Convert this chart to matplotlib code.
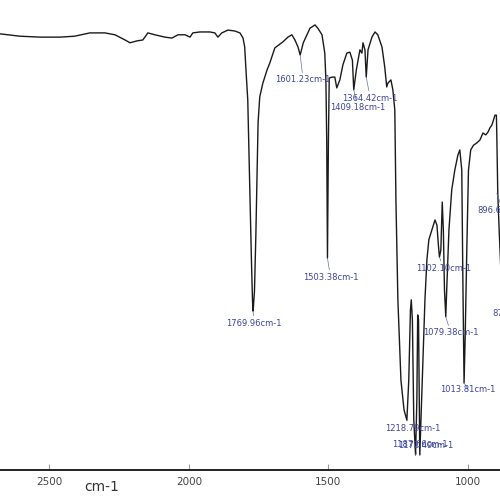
import matplotlib
matplotlib.use('Agg')
import matplotlib.pyplot as plt
import numpy as np

# IR spectrum: wavenumber (cm-1) and transmittance (%)
wavenumber = [2677, 2606, 2534, 2462, 2409, 2355, 2301, 2265, 2229, 2211,
              2186, 2165, 2147, 2122, 2086, 2061, 2039, 2014, 1996, 1986,
              1961, 1925, 1907, 1896, 1882, 1860, 1835, 1817, 1806, 1800,
              1796, 1789, 1782, 1776, 1772, 1769.96, 1765, 1760, 1756, 1752,
              1746, 1735, 1720, 1710, 1692, 1674, 1663, 1645, 1631, 1620,
              1609, 1601.23, 1590, 1566, 1548, 1538, 1523, 1513, 1509, 1506,
              1504.5, 1503.38, 1502, 1500, 1497, 1487, 1477, 1470, 1459, 1448,
              1434, 1423, 1414, 1409.18, 1400, 1387, 1380, 1376, 1369, 1364.42,
              1358, 1344, 1333, 1323, 1308, 1298, 1291, 1287, 1276, 1269,
              1262, 1258, 1251, 1240, 1229, 1218.79, 1212, 1206, 1203, 1199,
              1194, 1187.66, 1183, 1180, 1177, 1172.49, 1166, 1154, 1147, 1140,
              1129, 1118, 1111, 1106, 1102.10, 1097, 1092, 1088, 1084, 1079.38,
              1076, 1068, 1058, 1047, 1036, 1029, 1022, 1018, 1013.81, 1010,
              1004, 998, 990, 980, 968, 957, 946, 936, 928, 921,
              914, 903, 898, 896.66, 893, 888, 880, 872, 865]
transmittance = [92.8, 92.3, 92.1, 92.1, 92.3, 93.0, 93.0, 92.6, 91.5, 90.9,
                 91.3, 91.5, 93.0, 92.6, 92.1, 91.9, 92.6, 92.6, 92.1, 93.0,
                 93.2, 93.2, 93.0, 92.1, 93.0, 93.6, 93.4, 93.0, 91.9, 90.0,
                 85.7, 78.7, 60.0, 45.0, 36.0, 33.8, 38.0, 50.0, 62.0, 74.0,
                 79.4, 82.3, 85.1, 86.6, 89.8, 90.6, 91.1, 92.1, 92.6, 91.5,
                 90.0, 88.3, 90.9, 94.0, 94.7, 94.0, 92.6, 88.7, 83.0, 70.0,
                 55.0, 45.1, 55.0, 70.0, 83.4, 83.6, 83.6, 81.3, 83.0, 86.2,
                 88.7, 88.9, 87.2, 80.9, 85.1, 89.4, 88.7, 90.9, 89.4, 83.6,
                 89.4, 92.1, 93.2, 92.6, 90.0, 85.7, 81.5, 82.3, 83.0, 80.9,
                 76.6, 57.4, 36.2, 19.1, 12.8, 10.6, 19.1, 34.0, 36.2, 31.9,
                 10.6, 3.2, 14.9, 33.0, 32.0, 3.2, 14.9, 36.2, 44.7, 49.0,
                 51.1, 53.2, 52.1, 48.0, 45.3, 46.8, 57.0, 51.0, 38.3, 32.6,
                 38.3, 51.1, 59.6, 63.8, 67.0, 68.1, 63.8, 40.0, 18.5, 27.7,
                 46.8, 63.8, 68.1, 69.1, 69.6, 70.2, 71.7, 71.3, 71.9, 72.8,
                 73.4, 75.5, 75.5, 72.0, 58.9, 51.0, 40.0, 36.0, 45.0]

peak_wn = [1769.96, 1601.23, 1503.38, 1409.18, 1364.42, 1218.79, 1187.66,
           1172.49, 1102.10, 1079.38, 1013.81, 896.66, 872.0]
peak_t = [33.8, 88.3, 45.1, 80.9, 83.6, 10.6, 3.2, 3.2, 45.3, 32.6, 18.5, 58.9, 36.0]
peak_labels = ['1769.96cm-1', '1601.23cm-1', '1503.38cm-1', '1409.18cm-1',
               '1364.42cm-1', '1218.79cm-1', '1187.66cm-1', '1172.49cm-1',
               '1102.10cm-1', '1079.38cm-1', '1013.81cm-1', '896.66cm-1',
               '872.04cm-1']
# label offsets in pixels from the peak point
label_offsets = [(1, -12), (3, -25), (3, -19), (4, -18), (4, -21), (6, -8),
                 (4, 10), (6, 9), (4, -11), (5, -16), (4, -6), (6, -17), (14, -13)]

xticks = [2500, 2000, 1500, 1000]

fig = plt.figure(figsize=(5, 5), dpi=100)
ax = fig.add_axes([0, 0.06, 1, 0.94])

ax.plot(wavenumber, transmittance, color='#1a1a1a', linewidth=1.0)

for wn, t, lab, off in zip(peak_wn, peak_t, peak_labels, label_offsets):
    ax.annotate(lab, xy=(wn, t), xytext=off, textcoords='offset pixels',
                ha='center', va='center', fontsize=6, color='#3a44a0',
                annotation_clip=False,
                arrowprops=dict(arrowstyle='-', color='#6670a8', lw=0.5,
                                shrinkA=0, shrinkB=0))

ax.set_xlim(2677, 885)
ax.set_ylim(0, 100)
ax.set_xticks(xticks)
ax.set_yticks([])
ax.tick_params(axis='x', direction='in', length=4, width=0.8, color='#999999',
               labelsize=7.5, labelcolor='#444444', pad=5)
for side in ['left', 'top', 'right']:
    ax.spines[side].set_visible(False)
ax.spines['bottom'].set_linewidth(1.3)
ax.spines['bottom'].set_color('#111111')

ax.set_xlabel('cm-1', fontsize=10, color='#333333')
ax.xaxis.set_label_coords(0.204, -0.022)

plt.savefig('out.png', dpi=100)
